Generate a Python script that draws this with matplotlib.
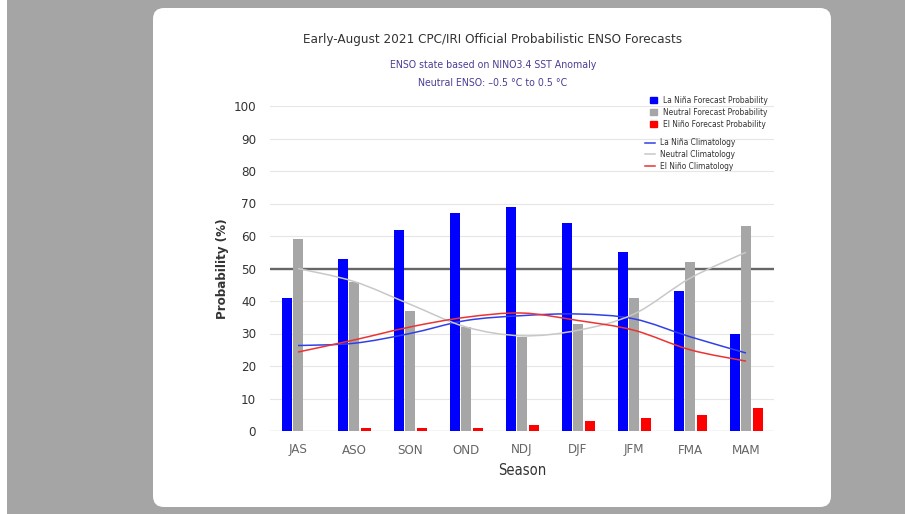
"""Early-August 2021 CPC/IRI probabilistic ENSO forecast chart."""

import matplotlib
matplotlib.use("Agg")
import matplotlib.pyplot as plt
import numpy as np
from matplotlib import font_manager
from matplotlib.patches import FancyBboxPatch, PathPatch, Patch, Rectangle
from matplotlib.path import Path
from matplotlib.lines import Line2D
from matplotlib.transforms import IdentityTransform

seasons = ["JAS", "ASO", "SON", "OND", "NDJ", "DJF", "JFM", "FMA", "MAM"]
la_nina = [41, 53, 62, 67, 69, 64, 55, 43, 30]
neutral = [59, 46, 37, 32, 29, 33, 41, 52, 63]
el_nino = [0, 1, 1, 1, 2, 3, 4, 5, 7]
clim_la_nina = [26.3, 27, 30, 34, 35.5, 36, 34.5, 29, 24]
clim_neutral = [50, 46, 39, 32, 29.3, 31, 36, 47, 55]
clim_el_nino = [24.3, 28, 32, 35, 36.3, 34, 31, 25, 21.5]

# narrow face if one is installed, else Open Sans
narrow = None
for f in font_manager.fontManager.ttflist:
    if "Narrow" in f.name or "Condensed" in f.name or f.stretch in ("condensed", "semi-condensed"):
        narrow = f
        break
if narrow is not None:
    FONT = [narrow.name, "Open Sans", "DejaVu Sans"]
    STRETCH = narrow.stretch
else:
    FONT = ["Open Sans", "DejaVu Sans"]
    STRETCH = "normal"
plt.rcParams["font.family"] = FONT
plt.rcParams["font.stretch"] = STRETCH

W, H = 905, 514


def spline_path(xs, ys):
    # smooth curve through the points (cubic bezier, catmull-rom style)
    pts = np.column_stack([xs, ys]).astype(float)
    n = len(pts)
    verts = [pts[0]]
    codes = [Path.MOVETO]
    for i in range(n - 1):
        p0 = pts[max(i - 1, 0)]
        p1 = pts[i]
        p2 = pts[i + 1]
        p3 = pts[min(i + 2, n - 1)]
        c1 = p1 + (p2 - p0) / 6.0
        c2 = p2 - (p3 - p1) / 6.0
        verts += [c1, c2, p2]
        codes += [Path.CURVE4] * 3
    return Path(verts, codes)


fig = plt.figure(figsize=(W / 100, H / 100), dpi=100)
fig.patch.set_facecolor("#a5a5a5")

# white strip on the left edge and the white rounded card
fig.patches.append(Rectangle((0, 0), 7, H, transform=IdentityTransform(),
                             facecolor="white", edgecolor="none", zorder=-2))
card = FancyBboxPatch((153, H - 507), 831 - 153, 507 - 8,
                      boxstyle="round,pad=0,rounding_size=11",
                      transform=IdentityTransform(), facecolor="white",
                      edgecolor="none", zorder=-2)
fig.patches.append(card)

ax = fig.add_axes([270 / W, 1 - 431 / H, (774 - 270) / W, (431 - 106) / H])
ax.set_facecolor("none")

x = np.arange(len(seasons))
bw = 0.175
ax.bar(x - 0.2, la_nina, width=bw, color="#0000ff", zorder=3)
ax.bar(x, neutral, width=bw, color="#a6a6a6", zorder=3)
ax.bar(x + 0.21, el_nino, width=bw, color="#ff0000", zorder=3)

ax.axhline(50, color="#666666", lw=1.7, zorder=2)

for vals, col in [(clim_la_nina, "#3040e8"), (clim_neutral, "#c8c8c8"),
                  (clim_el_nino, "#ec3333")]:
    ax.add_patch(PathPatch(spline_path(x, vals), fill=False, edgecolor=col,
                           lw=1.1, zorder=4))

ax.set_xlim(-0.5, len(seasons) - 0.5)
ax.set_ylim(0, 100)
ax.set_yticks(range(0, 101, 10))
ax.set_xticks(x)
ax.set_xticklabels(seasons, color="#666666", fontsize=9.5)
ax.tick_params(axis="y", length=0, pad=10, labelsize=9.5, labelcolor="#333333")
ax.tick_params(axis="x", length=0, pad=9)
ax.grid(axis="y", color="#e6e6e6", lw=0.8, zorder=0)
for s in ax.spines.values():
    s.set_visible(False)
ax.axhline(0, color="#ccd6eb", lw=1.0, zorder=1)

ax.set_xlabel("Season", fontsize=10.5, color="#333333", labelpad=5)
ax.set_ylabel("Probability (%)", fontsize=9.5, color="#333333",
              fontweight="bold", labelpad=3)

fig.text(493 / W, 1 - 40 / H,
         "Early-August 2021 CPC/IRI Official Probabilistic ENSO Forecasts",
         ha="center", va="center", fontsize=9.6, color="#333333")
fig.text(493 / W, 1 - 65 / H, "ENSO state based on NINO3.4 SST Anomaly",
         ha="center", va="center", fontsize=7.6, color="#4b3e94")
fig.text(493 / W, 1 - 83 / H, "Neutral ENSO: \u20130.5 \u00b0C to 0.5 \u00b0C",
         ha="center", va="center", fontsize=7.6, color="#4b3e94")

bar_handles = [Patch(color="#0000ff"), Patch(color="#a6a6a6"), Patch(color="#ff0000")]
bar_labels = ["La Niña Forecast Probability", "Neutral Forecast Probability",
              "El Niño Forecast Probability"]
leg1 = fig.legend(bar_handles, bar_labels, loc="upper left",
                  bbox_to_anchor=(650 / W, 1 - 96 / H), frameon=False,
                  fontsize=6.0, handlelength=0.8, handleheight=0.8,
                  handletextpad=0.7, labelspacing=0.35, borderpad=0,
                  borderaxespad=0, labelcolor="#333333")

line_handles = [Line2D([], [], color="#3040e8", lw=1.1),
                Line2D([], [], color="#c8c8c8", lw=1.1),
                Line2D([], [], color="#ec3333", lw=1.1)]
line_labels = ["La Niña Climatology", "Neutral Climatology", "El Niño Climatology"]
leg2 = fig.legend(line_handles, line_labels, loc="upper left",
                  bbox_to_anchor=(645 / W, 1 - 138.5 / H), frameon=False,
                  fontsize=6.0, handlelength=1.2, handletextpad=0.6,
                  labelspacing=0.35, borderpad=0, borderaxespad=0,
                  labelcolor="#333333")

fig.savefig("out.png", dpi=100, facecolor=fig.get_facecolor())
